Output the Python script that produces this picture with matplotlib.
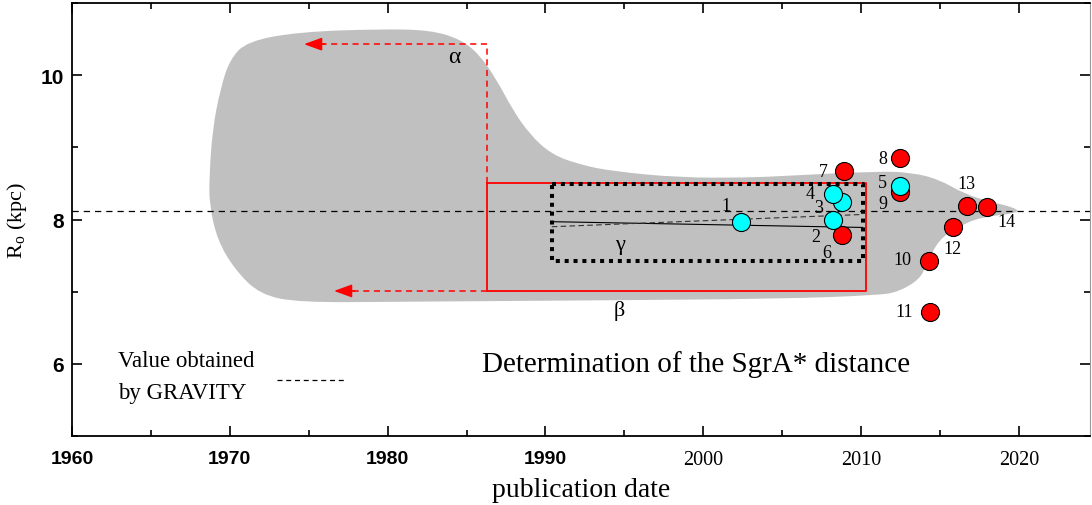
import numpy as np
import matplotlib
matplotlib.use('Agg')
import matplotlib.pyplot as plt
from matplotlib.path import Path
from matplotlib.patches import PathPatch
from matplotlib.ticker import MultipleLocator

cyan_ids = ['1', '2', '3', '4', '5']
cyan_year = [2002.4, 2008.2, 2008.8, 2008.2, 2012.5]
cyan_r0 = [7.96, 7.99, 8.24, 8.36, 8.47]

red_ids = ['6', '7', '8', '9', '10', '11', '12', '13', '14']
red_year = [2008.8, 2008.9, 2012.5, 2012.5, 2014.3, 2014.4, 2015.8, 2016.7, 2018.0]
red_r0 = [7.78, 8.67, 8.85, 8.375, 7.43, 6.72, 7.90, 8.19, 8.17]

gravity_r0 = 8.122

# outline of the grey envelope of older estimates
blob_year = [1971.1, 1974.4, 1979.5, 1982.7, 1984.6, 1985.8, 1986.9, 1987.9, 1989.0,
             1990.4, 1992.2, 1994.2, 1998.5, 2002.7, 2004.8, 2011.1, 2013.2, 2014.9,
             2016.6, 2018.3, 2019.8, 2020.0, 2017.5, 2016.2, 2014.9, 2014.1, 2013.7, 2012.4,
             2011.1, 2004.8, 1993.4, 1980.8, 1974.4, 1971.9, 1970.3, 1969.2, 1968.7,
             1968.7, 1968.9, 1969.4, 1970.0]
blob_r0 = [10.47, 10.60, 10.64, 10.625, 10.50, 10.29, 9.94, 9.53, 9.18,
           8.90, 8.76, 8.67, 8.58, 8.58, 8.60, 8.67, 8.65, 8.56,
           8.35, 8.24, 8.16, 8.09, 8.03, 7.90, 7.72, 7.35, 7.17, 7.00,
           6.95, 6.90, 6.88, 6.86, 6.85, 6.96, 7.31, 7.72, 8.21,
           8.60, 9.25, 9.81, 10.22]

# alpha / beta / gamma boxes (years, R0)
beta_year = [1986.3, 2010.3]
beta_r0 = [7.01, 8.50]
gamma_year = [1990.4, 2010.1]
gamma_r0 = [7.42, 8.49]
alpha_r0 = 10.43
alpha_arrow_year = 1974.7
beta_arrow_year = 1976.6
fit_solid_r0 = [7.97, 7.89]
fit_dashed_r0 = [7.90, 8.07]

serif = 'Liberation Serif'
sans = 'Liberation Sans'

fig = plt.figure(figsize=(10.92, 5.06), dpi=100)
ax = fig.add_axes([0.066, 0.1364, 0.932, 0.8556])

# smooth closed outline: quadratic curves through the midpoints
pts = np.column_stack([blob_year, blob_r0])
mids = (pts + np.roll(pts, -1, axis=0)) / 2
verts = [mids[-1]]
codes = [Path.MOVETO]
for i in range(len(pts)):
    verts += [pts[i], mids[i]]
    codes += [Path.CURVE3, Path.CURVE3]
verts.append(mids[-1])
codes.append(Path.CLOSEPOLY)
ax.add_patch(PathPatch(Path(verts, codes), facecolor='#c0c0c0', lw=0, zorder=1))

# GRAVITY value
ax.axhline(gravity_r0, color='black', lw=0.9, ls=(0, (5, 4)), zorder=2)

# beta box (solid red)
ax.plot([beta_year[0], beta_year[1], beta_year[1], beta_year[0], beta_year[0]],
        [beta_r0[1], beta_r0[1], beta_r0[0], beta_r0[0], beta_r0[1]],
        color='red', lw=1.3, zorder=3)

# alpha dashed red path with arrows
ax.plot([beta_year[0], beta_year[0], alpha_arrow_year + 0.8],
        [beta_r0[1], alpha_r0, alpha_r0], color='red', lw=1.1, ls=(0, (4, 3)), zorder=3)
ax.plot([beta_year[0], beta_arrow_year + 0.8], [beta_r0[0], beta_r0[0]],
        color='red', lw=1.1, ls=(0, (4, 3)), zorder=3)
for yr, r in [(alpha_arrow_year, alpha_r0), (beta_arrow_year, beta_r0[0])]:
    ax.annotate('', xy=(yr, r), xytext=(yr + 1.3, r),
                arrowprops=dict(arrowstyle='-|>,head_length=1.1,head_width=0.4',
                                color='red', lw=1.1, shrinkA=0, shrinkB=0), zorder=4)

# gamma box (thick dotted black)
ax.plot([gamma_year[0], gamma_year[1], gamma_year[1], gamma_year[0], gamma_year[0]],
        [gamma_r0[1], gamma_r0[1], gamma_r0[0], gamma_r0[0], gamma_r0[1]],
        color='black', lw=2.9, ls=(0, (1, 1.2)), dash_capstyle='butt', zorder=3)
ax.plot(gamma_year, fit_solid_r0, color='black', lw=0.8, zorder=3)
ax.plot(gamma_year, fit_dashed_r0, color='#333333', lw=0.8, ls=(0, (5, 3)), zorder=3)

# points
ax.plot(red_year, red_r0, 'o', ms=13, mfc='red', mec='black', mew=0.8, zorder=5)
ax.plot(cyan_year, cyan_r0, 'o', ms=13, mfc='cyan', mec='black', mew=0.8, zorder=6)

label_offsets = {'1': (-11, 12), '2': (-12, -12), '3': (-17, -4), '4': (-16, 0),
                 '5': (-13, 2), '6': (-11, -12), '7': (-15, 0), '8': (-13, 0),
                 '9': (-13, -8), '10': (-19, 1), '11': (-19, 0), '12': (0, -16),
                 '13': (0, 16), '14': (14, -10)}
for ids, xs, ys in [(cyan_ids, cyan_year, cyan_r0), (red_ids, red_year, red_r0)]:
    for lab, x, y in zip(ids, xs, ys):
        ax.annotate(lab, (x, y), xytext=label_offsets[lab], textcoords='offset points',
                    ha='center', va='center', fontsize=13, family=serif, zorder=7)

# greek labels
ax.text(1984.2, 10.26, 'α', fontsize=17, family=serif, ha='center', va='center')
ax.text(1994.7, 6.75, 'β', fontsize=16, family=serif, ha='center', va='center')
ax.text(1994.7, 7.65, 'γ', fontsize=16, family=serif, ha='center', va='center')

# legend-like text
ax.text(1962.9, 6.05, 'Value obtained', fontsize=16.5, family=serif, va='center')
ax.text(1962.9, 5.60, 'by GRAVITY', fontsize=16.5, family=serif, va='center')
ax.plot([1973.0, 1977.3], [5.78, 5.78], color='black', lw=0.9, ls=(0, (4, 3)))
ax.text(1986.0, 6.0, 'Determination of the SgrA* distance', fontsize=21,
        family=serif, va='center')

ax.set_xlim(1960, 2024.5)
ax.set_ylim(5, 11)
ax.xaxis.set_major_locator(MultipleLocator(10))
ax.xaxis.set_minor_locator(MultipleLocator(5))
ax.yaxis.set_major_locator(MultipleLocator(2))
ax.yaxis.set_minor_locator(MultipleLocator(1))
ax.tick_params(which='both', direction='in', top=True, right=True, width=1.2)
ax.tick_params(which='major', length=7)
ax.tick_params(which='minor', length=4)
ax.tick_params(axis='x', pad=10)
ax.tick_params(axis='y', pad=6)
for sp in ['left', 'bottom', 'top']:
    ax.spines[sp].set_linewidth(1.3)
ax.spines['right'].set_linewidth(0.8)
ax.spines['right'].set_color('#999999')

fig.canvas.draw()
for t in ax.get_xticklabels():
    yr = int(round(t.get_position()[0]))
    if yr < 2000:
        t.set_family(sans)
        t.set_fontsize(14)
        t.set_fontweight('bold')
    else:
        t.set_family(serif)
        t.set_fontsize(14.5)
for t in ax.get_yticklabels():
    t.set_family(sans)
    t.set_fontsize(15)
    t.set_fontweight('bold')

ax.set_xlabel('publication date', fontsize=20, family=serif, labelpad=6)
ax.set_ylabel(r'R$_\mathregular{o}$ (kpc)', fontsize=16, family=serif, labelpad=8)

fig.savefig('out.png', dpi=100)
